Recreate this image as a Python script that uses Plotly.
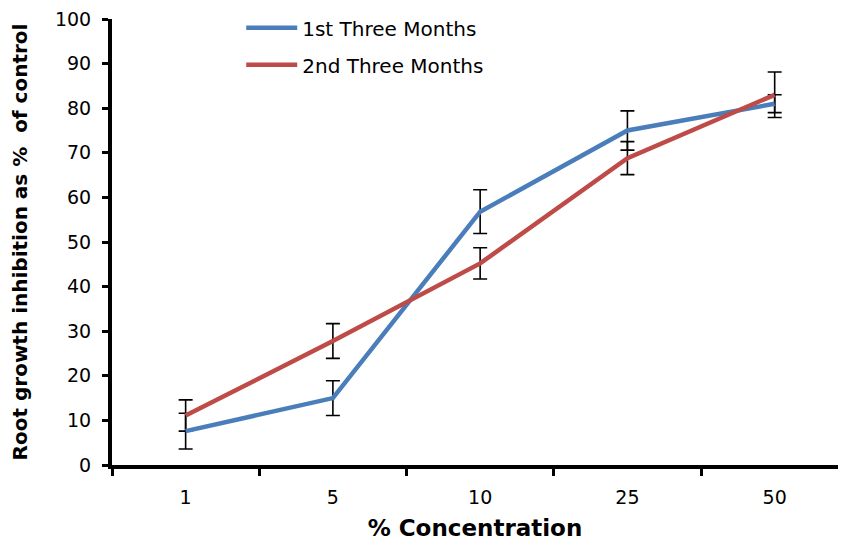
import plotly.graph_objects as go

categories = ["1", "5", "10", "25", "50"]
first_vals = [7.6, 15.0, 56.8, 75.0, 81.0]
first_err = [4.0, 3.9, 4.9, 4.4, 2.0]
second_vals = [11.1, 27.8, 45.2, 68.8, 83.0]
second_err = [3.5, 3.9, 3.5, 3.7, 5.1]

BLUE = "#4A7EBB"
RED = "#BE4B48"
FONT = "'DejaVu Sans', sans-serif"

fig = go.Figure()
for vals, err in [(first_vals, first_err), (second_vals, second_err)]:
    fig.add_trace(go.Scatter(
        x=categories, y=vals, mode="markers",
        marker=dict(size=1, color="rgba(0,0,0,0)"),
        error_y=dict(type="data", array=err, visible=True, color="black",
                     thickness=1.6, width=7),
        showlegend=False, hoverinfo="skip"))

fig.add_trace(go.Scatter(x=categories, y=first_vals, mode="lines",
                         name="1st Three Months", legendgroup="a",
                         line=dict(color=BLUE, width=4.5)))
fig.add_trace(go.Scatter(x=categories, y=second_vals, mode="lines",
                         name="2nd Three Months", legendgroup="b",
                         line=dict(color=RED, width=4.5)))

fig.update_layout(
    width=830, height=533,
    margin=dict(l=104, r=0, t=8, b=76),
    paper_bgcolor="white", plot_bgcolor="white",
    font=dict(family=FONT, color="black", size=19),
    legend=dict(x=0.178, y=1.024, xanchor="left", yanchor="top",
                bgcolor="rgba(0,0,0,0)", tracegroupgap=8,
                font=dict(size=20), itemwidth=51),
    xaxis=dict(type="category", range=[-0.5, 4.43], showline=True,
               linecolor="black", linewidth=4, ticks="outside",
               tickson="boundaries", ticklen=7, tickwidth=3, tickcolor="black",
               showgrid=False, zeroline=False, ticklabelstandoff=12,
               tickfont=dict(size=19), automargin=False,
               title=dict(text="<b>% Concentration</b>", font=dict(size=23),
                          standoff=21)),
    yaxis=dict(range=[0, 100], dtick=10, showline=True, linecolor="black",
               linewidth=4, ticks="outside", ticklen=6, tickwidth=3,
               tickcolor="black", showgrid=False, zeroline=False,
               tickfont=dict(size=19), ticklabelstandoff=7, automargin=False,
               ticklabeloverflow="allow",
               title=dict(text="<b>Root growth inhibition as %  of control</b>",
                          font=dict(size=20), standoff=24)),
)

fig.write_html("out.html")
